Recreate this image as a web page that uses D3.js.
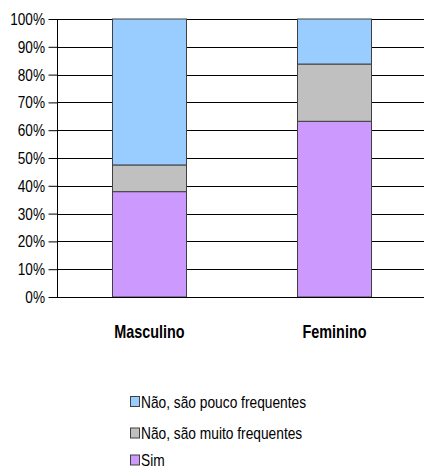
<!DOCTYPE html>
<html><head><meta charset="utf-8">
<script src="https://cdn.jsdelivr.net/npm/d3@7"></script>
<style>body{margin:0;background:#fff}svg{display:block}</style>
</head><body>
<svg id="c" width="424" height="470"></svg>
<script>
const categories = ["Masculino", "Feminino"];
const seriesNames = ["Sim", "Não, são muito frequentes", "Não, são pouco frequentes"];
const sim = [37.9, 63.2];
const muito = [9.6, 20.6];
const pouco = [52.5, 16.2];
const colors = ["#CC99FF", "#C0C0C0", "#99CCFF"];
const yTicks = [0,10,20,30,40,50,60,70,80,90,100];

(function(){
const font = "'Liberation Sans',Arial,sans-serif";
const sx = 0.8;
const svg = d3.select("#c");
const pL = 57, pR = 427, pT = 19, pB = 297;
const x = d3.scaleBand().domain(categories).range([pL, pR]).paddingInner(0).paddingOuter(0);
const y = d3.scaleLinear().domain([0,100]).range([pB, pT]);

const rows = categories.map((c,i)=>({cat:c, v:[sim[i], muito[i], pouco[i]]}));

// gridlines
svg.append("g").selectAll("line").data(yTicks.filter(t=>t>0)).join("line")
  .attr("x1", pL).attr("x2", pR)
  .attr("y1", d=>Math.round(y(d))+0.5).attr("y2", d=>Math.round(y(d))+0.5)
  .attr("stroke", "#000").attr("stroke-width", 1);

// bars
const bw = x.bandwidth()*0.4;
rows.forEach(r=>{
  let acc = 0;
  r.v.forEach((v,k)=>{
    const y0 = y(acc), y1 = y(acc+v);
    svg.append("rect")
      .attr("x", x(r.cat)+x.bandwidth()/2-bw/2).attr("width", bw)
      .attr("y", y1).attr("height", y0-y1)
      .attr("fill", colors[k]).attr("stroke", "#404040").attr("stroke-width", 1);
    acc += v;
  });
});

// y axis
const yAxis = d3.axisLeft(y).tickValues(yTicks).tickFormat(d=>d+"%").tickSize(9).tickPadding(3);
const ga = svg.append("g").attr("transform", `translate(${pL+0.5},0)`).call(yAxis);
ga.select(".domain").attr("stroke","#000").attr("d", `M0,${pT}V${pB}`);
ga.selectAll(".tick line").attr("stroke","#000");
ga.selectAll(".tick text").attr("font-family", font).attr("font-size", "17px").attr("fill","#000")
  .attr("x", -12.5/sx).attr("transform", `scale(${sx},1)`);

// x axis baseline
svg.append("line").attr("x1", pL).attr("x2", pR).attr("y1", pB+0.5).attr("y2", pB+0.5).attr("stroke","#000");

// category labels
svg.append("g").selectAll("text").data(categories).join("text")
  .attr("transform", d=>`translate(${x(d)+x.bandwidth()/2},338) scale(${sx},1)`)
  .attr("text-anchor","middle").attr("font-family", font).attr("font-weight","bold")
  .attr("font-size","18px").text(d=>d);

// legend
const legendOrder = [2,1,0];
const lg = svg.append("g");
legendOrder.forEach((k,i)=>{
  const cy = [401.5, 433, 460][i];
  lg.append("rect").attr("x", 130.5).attr("y", cy-5).attr("width", 9).attr("height", 10)
    .attr("fill", colors[k]).attr("stroke","#404040");
  lg.append("text").attr("transform", `translate(141,${cy+6}) scale(0.86,1)`).attr("font-family", font)
    .attr("font-size","16px").text(seriesNames[k]);
});
})();
</script>
</body></html>
